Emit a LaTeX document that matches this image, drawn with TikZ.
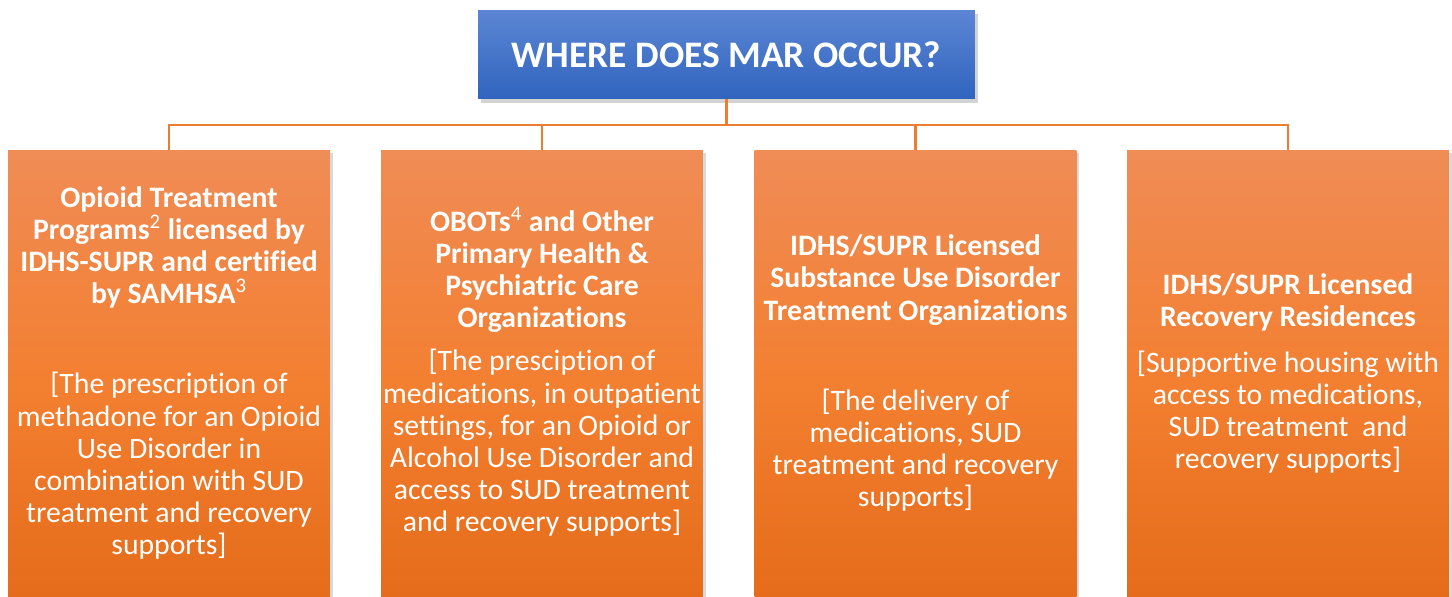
\documentclass[tikz,border=0pt]{standalone}
\usepackage{fontspec}
\setmainfont{Carlito}[Ligatures={NoCommon,NoContextual}]
\usetikzlibrary{positioning, shadows}
\definecolor{orange-top}{RGB}{240,140,86}
\definecolor{orange-mid}{RGB}{243,127,48}
\definecolor{orange-bot}{RGB}{227,106,24}
\definecolor{blue-top}{RGB}{92,134,212}
\definecolor{blue-bot}{RGB}{48,100,190}
\definecolor{link-color}{RGB}{237,125,49}
\tikzset{
    title/.style = {top color=blue-top, bottom color=blue-bot, text=white,
        minimum width=9.94cm, minimum height=1.78cm,
        font=\bfseries\fontsize{21.3}{25}\selectfont,
        drop shadow={shadow xshift=1.5pt, shadow yshift=-2pt, opacity=0.35}},
    column/.style = {top color=orange-top, bottom color=orange-bot,
        middle color=orange-mid, anchor=north,
        minimum width=6.44cm, minimum height=9.4cm,
        drop shadow={shadow xshift=1.5pt, shadow yshift=-1.5pt, opacity=0.3}},
    head/.style = {text=white, align=center, inner sep=0pt,
        font=\bfseries\fontsize{16.9}{18.3}\selectfont},
    body/.style = {text=white, align=center, inner sep=0pt,
        font=\fontsize{16.9}{18.3}\selectfont},
    link/.style = {draw=link-color, line width=1.6pt}
}
\newcommand{\fnote}[1]{\textsuperscript{\mdseries #1}}

\begin{document}
\begin{tikzpicture}[x=0.02cm, y=-0.02cm]
\useasboundingbox (0,0) rectangle (1452,596);

% columns
\node(c1)[column] at (169,150) {};
\node(c2)[column] at (542,150) {};
\node(c3)[column] at (915.5,150) {};
\node(c4)[column] at (1288,150) {};

% title and connectors
\node(mar)[title] at (726.5,54.5) {WHERE DOES MAR OCCUR?};
\coordinate (bus) at (726.5,125);
\draw[link] (mar.south) -- (bus);
\foreach \c in {c1,c2,c3,c4}
    \draw[link] (bus) -| (\c.north);

% texts
\node(h1)[head] at (169,247.5) {Opioid Treatment\\Programs\fnote{2} licensed by\\IDHS-SUPR and certified\\by SAMHSA\fnote{3}};
\node(d1)[body] at (169,466) {[The prescription of\\methadone for an Opioid\\Use Disorder in\\combination with SUD\\treatment and recovery\\supports]};

\node(h2)[head] at (542,270) {OBOTs\fnote{4} and Other\\Primary Health \&\\Psychiatric Care\\Organizations};
\node(d2)[body] at (542,443) {[The presciption of\\medications, in outpatient\\settings, for an Opioid or\\Alcohol Use Disorder and\\access to SUD treatment\\and recovery supports]};

\node(h3)[head] at (915.5,280) {IDHS/SUPR Licensed\\Substance Use Disorder\\Treatment Organizations};
\node(d3)[body] at (915.5,450) {[The delivery of\\medications, SUD\\treatment and recovery\\supports]};

\node(h4)[head] at (1288,302) {IDHS/SUPR Licensed\\Recovery Residences};
\node(d4)[body] at (1288,412) {[Supportive housing with\\access to medications,\\SUD treatment\ \ and\\recovery supports]};
\end{tikzpicture}
\end{document}
